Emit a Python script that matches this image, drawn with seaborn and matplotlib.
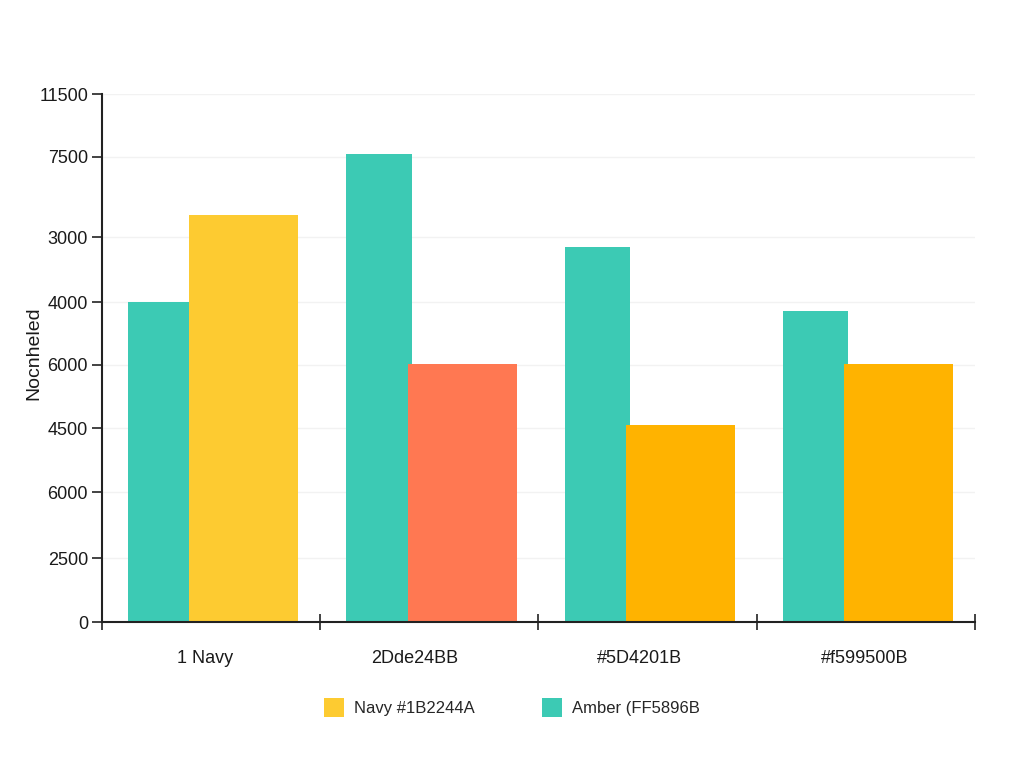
import numpy as np
import pandas as pd
import matplotlib
matplotlib.use("Agg")
import matplotlib.pyplot as plt
from matplotlib.patches import Patch
import seaborn as sns

# categories and values (axis units: baseline 0, top tick 11500)
groups = ["1 Navy", "2Dde24BB", "#5D4201B", "#f599500B"]
teal_values = [6970, 10190, 8170, 6770]
second_values = [8860, 5620, 4290, 5620]
second_colors = ["#FDCB31", "#FF7852", "#FFB300", "#FFB300"]
teal_color = "#3CCAB4"

ytick_pos = [11500, 10130, 8385, 6970, 5600, 4225, 2830, 1395, 0]
ytick_labels = ["11500", "7500", "3000", "4000", "6000", "4500", "6000", "2500", "0"]

legend_labels = ["Navy #1B2244A", "Amber (FF5896B"]
ylabel = "Nocnheled"

# layout: bar offsets inside each group, label positions
teal_offset, teal_width = -0.23, 0.30
second_offset, second_width = 0.15, 0.50
label_pos = [-0.03, 0.935, 1.965, 2.995]

sns.set_theme(style="white")
plt.rcParams["font.family"] = ["Liberation Sans", "DejaVu Sans"]

fig = plt.figure(figsize=(10.24, 7.68), dpi=100)
ax = fig.add_axes([0.0996, 0.190, 0.8525, 0.6875])

idx = np.arange(len(groups))
teal_df = pd.DataFrame({"x": idx + teal_offset, "y": teal_values})
second_df = pd.DataFrame({"x": idx + second_offset, "y": second_values, "g": groups})

sns.barplot(data=teal_df, x="x", y="y", native_scale=True, width=teal_width,
            color=teal_color, saturation=1, errorbar=None, ax=ax, linewidth=0)
sns.barplot(data=second_df, x="x", y="y", hue="g", palette=second_colors,
            native_scale=True, width=second_width, dodge=False, saturation=1,
            errorbar=None, legend=False, ax=ax, linewidth=0)

ax.set_xlim(-0.5, 3.5)
ax.set_ylim(0, 11500)

ax.set_yticks(ytick_pos)
ax.set_yticklabels(ytick_labels, fontsize=13, color="#1a1a1a")
ax.set_xticks(np.arange(-0.5, 4.0, 1.0))
ax.set_xticklabels([])
ax.set_xticks(label_pos, minor=True)
ax.set_xticklabels(groups, minor=True, fontsize=13, color="#1a1a1a")
ax.tick_params(axis="x", which="major", bottom=True, direction="inout", length=12,
               width=1.2, color="#222222")
ax.tick_params(axis="x", which="minor", bottom=True, length=0, pad=20)
ax.tick_params(axis="y", left=True, direction="out", length=7, width=1.2,
               color="#222222", pad=3)

ax.grid(axis="y", color="#f2f2f2", linewidth=1)
ax.set_axisbelow(True)

for side in ["top", "right"]:
    ax.spines[side].set_visible(False)
for side in ["left", "bottom"]:
    ax.spines[side].set_color("#222222")
    ax.spines[side].set_linewidth(1.5)

ax.set_xlabel("")
ax.set_ylabel(ylabel, fontsize=14, color="#1a1a1a")
ax.yaxis.set_label_coords(-0.068, 0.51)

handles = [Patch(facecolor=second_colors[0], edgecolor="none"),
           Patch(facecolor=teal_color, edgecolor="none")]
fig.legend(handles, legend_labels, loc="center", bbox_to_anchor=(0.5, 0.079), ncol=2,
           frameon=False, fontsize=12, handlelength=1.2, handleheight=1.4,
           handletextpad=0.6, columnspacing=4.0)

fig.savefig("out.png", dpi=100)
